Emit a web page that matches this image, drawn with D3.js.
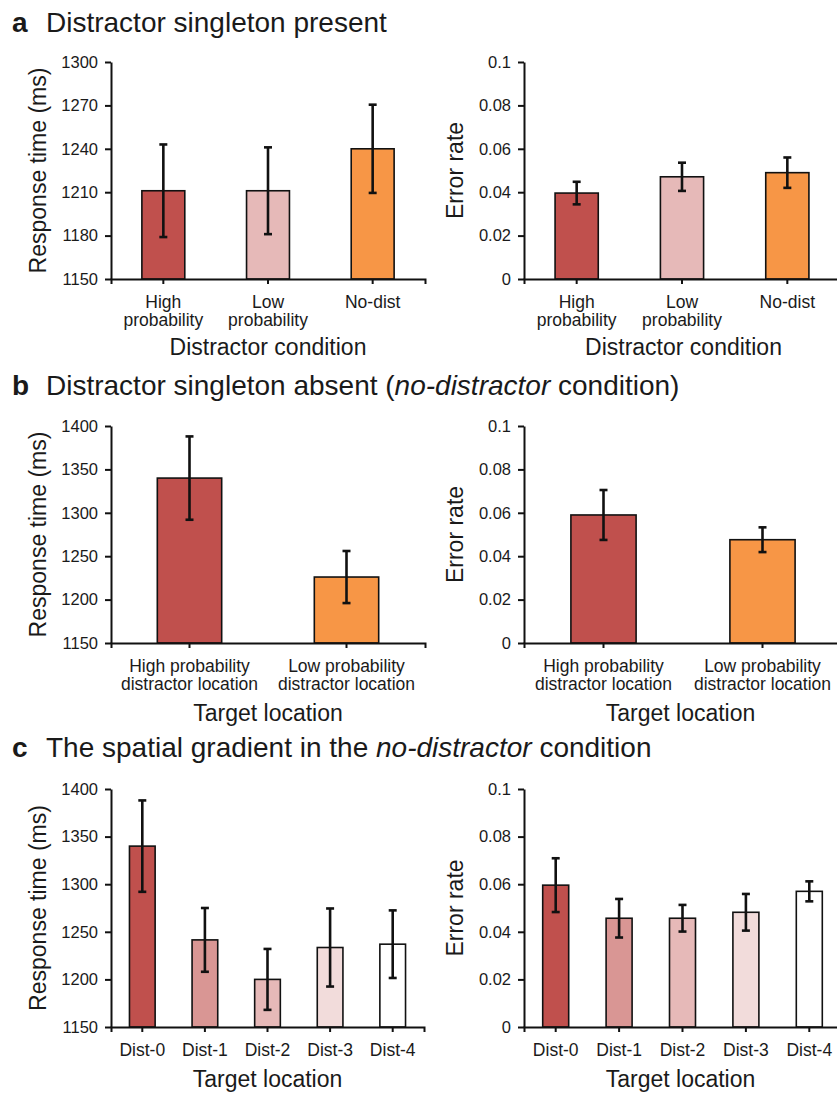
<!DOCTYPE html>
<html>
<head>
<meta charset="utf-8">
<script src="https://cdn.jsdelivr.net/npm/d3@7"></script>
<style>
  body { margin: 0; background: #fff; }
  text { font-family: Arial, "Liberation Sans", sans-serif; fill: #1a1a1a; }
</style>
</head>
<body>
<script>
// data
var condA = [["High", "probability"], ["Low", "probability"], ["No-dist"]];
var rtA = [1211, 1211, 1240];
var rtAErr = [32, 30, 30.5];
var erA = [0.0396, 0.0471, 0.049];
var erAErr = [0.0052, 0.0065, 0.007];

var locB = [["High probability", "distractor location"], ["Low probability", "distractor location"]];
var rtB = [1340, 1226];
var rtBErr = [48, 30];
var erB = [0.059, 0.0476];
var erBErr = [0.0115, 0.0057];

var distC = [["Dist-0"], ["Dist-1"], ["Dist-2"], ["Dist-3"], ["Dist-4"]];
var rtC = [1340, 1241.5, 1200, 1233.5, 1237];
var rtCErr = [48, 33.5, 32, 41, 35.5];
var erC = [0.0596, 0.0457, 0.0457, 0.0482, 0.057];
var erCErr = [0.0113, 0.0081, 0.0056, 0.0077, 0.0042];

var rtTicksA = [1150, 1180, 1210, 1240, 1270, 1300];
var rtTicksBC = [1150, 1200, 1250, 1300, 1350, 1400];
var erTicks = [0, 0.02, 0.04, 0.06, 0.08, 0.1];

var colA = ["#C0504D", "#E6B9B8", "#F79646"];
var colB = ["#C0504D", "#F79646"];
var colC = ["#C0504D", "#D99694", "#E6B9B8", "#F2DCDB", "#FFFFFF"];

var svg = d3.select("body").append("svg")
  .attr("width", 837)
  .attr("height", 1094);

function fmtErr(d) { return d === 0 ? "0" : String(+d.toFixed(2)); }

function barChart(opt) {
  var names = opt.cats.map(function(c) { return c.join(" "); });
  var x = d3.scaleBand().domain(names).range([opt.x0, opt.x1]).paddingInner(0).paddingOuter(0);
  var y = d3.scaleLinear().domain(opt.domain).range([opt.y1, opt.y0]);
  var g = svg.append("g");
  var bw = x.bandwidth() * 0.41;

  var rows = names.map(function(n, i) {
    return { name: n, v: opt.vals[i], e: opt.errs[i], c: opt.colors[i] };
  });

  g.selectAll("rect.bar").data(rows).enter().append("rect")
    .attr("class", "bar")
    .attr("x", d => x(d.name) + x.bandwidth() / 2 - bw / 2)
    .attr("width", bw)
    .attr("y", d => y(d.v))
    .attr("height", d => y(opt.domain[0]) - y(d.v))
    .attr("fill", d => d.c)
    .attr("stroke", "#111")
    .attr("stroke-width", 1.6);

  // error bars
  var eb = g.selectAll("g.err").data(rows).enter().append("g")
    .attr("stroke", "#111").attr("stroke-width", 2.6);
  eb.append("line")
    .attr("x1", d => x(d.name) + x.bandwidth() / 2)
    .attr("x2", d => x(d.name) + x.bandwidth() / 2)
    .attr("y1", d => y(d.v + d.e))
    .attr("y2", d => y(d.v - d.e));
  [1, -1].forEach(function(s) {
    eb.append("line")
      .attr("x1", d => x(d.name) + x.bandwidth() / 2 - 4)
      .attr("x2", d => x(d.name) + x.bandwidth() / 2 + 4)
      .attr("y1", d => y(d.v + s * d.e))
      .attr("y2", d => y(d.v + s * d.e));
  });

  var yAxis = g.append("g")
    .attr("transform", "translate(" + opt.x0 + ",0)")
    .call(d3.axisLeft(y).tickValues(opt.ticks).tickFormat(opt.fmt).tickSize(6).tickSizeOuter(0).tickPadding(7));
  yAxis.selectAll("text").style("font-size", "16.5px").attr("fill", "#1a1a1a");

  var xAxis = g.append("g")
    .attr("transform", "translate(0," + opt.y1 + ")")
    .call(d3.axisBottom(x).tickSize(5).tickSizeOuter(5));
  xAxis.selectAll(".tick text").each(function(d, i) {
    var t = d3.select(this).text(null).attr("y", 0).attr("dy", null)
      .attr("fill", "#1a1a1a").style("font-size", "17.5px");
    opt.cats[i].forEach(function(line, k) {
      t.append("tspan").attr("x", 0).attr("y", 29 + k * 18).text(line);
    });
  });

  [yAxis, xAxis].forEach(function(a) {
    a.selectAll("path, line").attr("stroke", "#111").attr("stroke-width", 2);
  });

  g.append("text")
    .attr("transform", "translate(" + opt.ylabX + "," + ((opt.y0 + opt.y1) / 2) + ") rotate(-90)")
    .attr("text-anchor", "middle")
    .style("font-size", "23px")
    .text(opt.ylab);

  g.append("text")
    .attr("x", (opt.x0 + Math.min(opt.x1, 837)) / 2 + opt.xlabShift)
    .attr("y", opt.xlabY)
    .attr("text-anchor", "middle")
    .style("font-size", "23px")
    .text(opt.xlab);
}

function panelTitle(letter, parts, yb) {
  var t = svg.append("text").attr("x", 12).attr("y", yb).style("font-size", "28px");
  t.append("tspan").style("font-weight", "bold").text(letter);
  t.append("tspan").attr("x", 46).text(parts[0]);
  if (parts.length > 1) {
    t.append("tspan").style("font-style", "italic").text(parts[1]);
    t.append("tspan").text(parts[2]);
  }
}

panelTitle("a", ["Distractor singleton present"], 32);
panelTitle("b", ["Distractor singleton absent (", "no-distractor", " condition)"], 395);
panelTitle("c", ["The spatial gradient in the ", "no-distractor", " condition"], 757);

// panel a
barChart({ cats: condA, vals: rtA, errs: rtAErr, colors: colA, domain: [1150, 1300], ticks: rtTicksA, fmt: d3.format("d"),
  x0: 111, x1: 425, y0: 62, y1: 279, ylab: "Response time (ms)", ylabX: 46, xlab: "Distractor condition", xlabY: 355, xlabShift: 0 });
barChart({ cats: condA, vals: erA, errs: erAErr, colors: colA, domain: [0, 0.1], ticks: erTicks, fmt: fmtErr,
  x0: 524, x1: 840, y0: 62, y1: 279, ylab: "Error rate", ylabX: 463, xlab: "Distractor condition", xlabY: 355, xlabShift: 3 });

// panel b
barChart({ cats: locB, vals: rtB, errs: rtBErr, colors: colB, domain: [1150, 1400], ticks: rtTicksBC, fmt: d3.format("d"),
  x0: 111, x1: 425, y0: 426, y1: 643, ylab: "Response time (ms)", ylabX: 46, xlab: "Target location", xlabY: 721, xlabShift: 0 });
barChart({ cats: locB, vals: erB, errs: erBErr, colors: colB, domain: [0, 0.1], ticks: erTicks, fmt: fmtErr,
  x0: 524, x1: 842, y0: 426, y1: 643, ylab: "Error rate", ylabX: 463, xlab: "Target location", xlabY: 721, xlabShift: 0 });

// panel c
barChart({ cats: distC, vals: rtC, errs: rtCErr, colors: colC, domain: [1150, 1400], ticks: rtTicksBC, fmt: d3.format("d"),
  x0: 111, x1: 424, y0: 789, y1: 1027, ylab: "Response time (ms)", ylabX: 46, xlab: "Target location", xlabY: 1087, xlabShift: 0 });
barChart({ cats: distC, vals: erC, errs: erCErr, colors: colC, domain: [0, 0.1], ticks: erTicks, fmt: fmtErr,
  x0: 524, x1: 841, y0: 789, y1: 1027, ylab: "Error rate", ylabX: 463, xlab: "Target location", xlabY: 1087, xlabShift: 0 });
</script>
</body>
</html>
